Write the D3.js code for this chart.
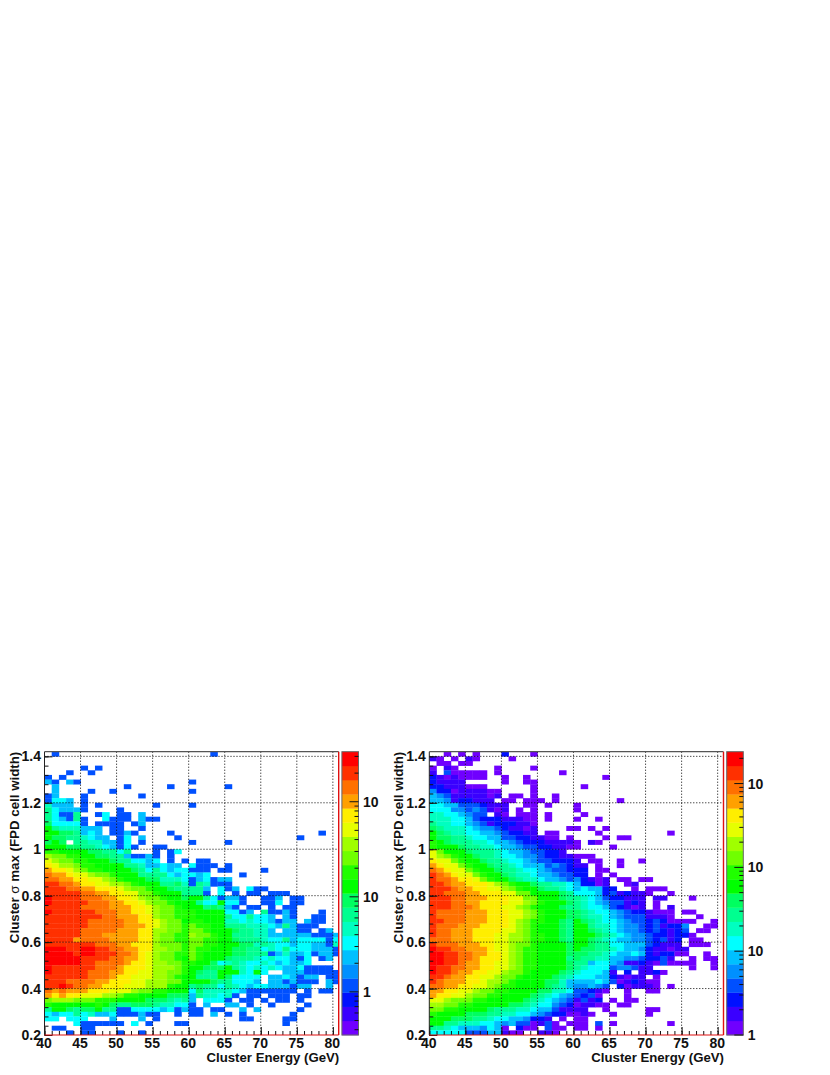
<!DOCTYPE html>
<html>
<head>
<meta charset="utf-8">
<script src="https://cdn.jsdelivr.net/npm/d3@7"></script>
<style>
body { margin: 0; background: #fff; }
text { font-family: "Liberation Sans", Arial, sans-serif; font-weight: bold; fill: #111; }
</style>
</head>
<body>
<script>
// bin edges of the histograms
const xStart = 40, xBinWidth = 1
const yStart = 0.2, yBinHeight = 0.02

const xTicks = [40, 45, 50, 55, 60, 65, 70, 75, 80]
const yTicks = [0.2, 0.4, 0.6, 0.8, 1, 1.2, 1.4]

// 20 colour bands of the palette, lowest first
const bandCodes = "0123456789abcdefghij".split("")
const palette = ["#7000ff", "#3a00ff", "#0010ff", "#0050ff", "#0090ff", "#00c0ff", "#00ffff", "#00ffc0", "#00ff90", "#00ff60",
                 "#00ff00", "#20ff00", "#70ff00", "#a0ff00", "#e6ff00", "#ffee00", "#ffa000", "#ff7000", "#ff3000", "#ff0000"]

// colour band of each bin. top row first, one group = 5 GeV, "." = empty bin
const leftRows = [
".3... ..... ..... ..... ...3.",
"", "",
"..... 3.3..",
"...3. .3...",
"3.3..",
"53.53 ..... ..... ..... 3....",
".5... ..... .3... ..3.. ..... 3....",
".5... .3..3 ..... ..... 3....",
"35... 3.... ...3.",
"3665. 3....",
"7555. 3.3.. ..... 3.... 3....",
"86555 3.... 3....",
"86338 ..36. 33.5.",
"86538 3..63 33.53 3....",
"96666 3.333 3.35.",
"a8777 555.3 3..3.",
"aa998 565.3 353.. ..3.. ..... ..... ..... ...3.",
"a9988 7655. 36.5. ...3. ..... ..... ..... 3....",
"9a9.8 87755 36.3. ..... 3.... 3....",
"aaa99 88765 363.. 33...",
"bbaaa a9988 68... 3.36.",
"dccbb aa998 85335 3.3..",
"edccb baaa9 88665 6.3.3 .33..",
"feddc bbaaa a8875 5655. 6333. 3....",
"gffed cbbaa aa986 86566 333.3 3.... 3....",
"hggfe edccb aaa88 88656 656.. ..3..",
"hhggf feedc baaa9 97776 35635 5....",
"iihhg ffeed dcbaa a8897 38733 3....",
"iiihh ggfff edccb aa988 885.6 35.63 3....",
"iiiii hhggf feecc baaa8 883.6 .3.33 .333.",
"jiiii hhhgg ffedc cbaa9 aa863 553.. 335.3 3....",
"jiiii ihhhg gffed ccbaa a866a 663.. 336.3 3....",
"iiiii hhhhg ggffe dccba aa898 53.33 .3.33",
"jiiii iihhh ggffe dccbb baaaa 6635. 83353 ...3.",
"iiiii iiihh gggff dccbb baaaa 86686 65.53 ..33.",
"iiiii ihhhh hggff edcca bbaaa 77676 65355 .533.",
"iiiii ihhhh hgggf edccb cbbaa 88877 76585 333..",
"iiiii hhhhh gggff ddccb ccbaa a9887 75.55 33.35",
"iiiii hhhgg gggff dccbb dccba a8887 75555 55333 5",
"iiiig hhhhg gggff dccbb ccbba a9888 76685 66663 6",
"iiiii iihhh ggfff dcccb ccbba aa997 87665 66553 7",
"jjjii jjiih hggff ddccb cbbaa a9988 67686 66555 3",
"jjjji jjiii hhgfe dccbb cbaaa a9988 83575 56355 3",
"jjjjj iiiih hggfe dccba cbaaa 98887 67665 36.35",
"jjjjj iihhh hgffe ddccb baa96 78766 76565 56...",
"jiiii iihhh gfffe dddcb aa999 a8767 67655 63333",
"jiiii ihhhg gffee ddccb a988a aa76a 6..55 53333 3",
"iiiii ihhhg ffeee ddcba a888a 96666 .5565 355.3 3",
"iiihh hhggf ffeed ddcca aaa98 86665 .5535 333.5 3",
"iijih hggff feeed ddbaa 89886 87656 65553 55..5",
"hghgg gfffe eedcc bbaaa 69777 76533 33333 .3.33",
"gfgff eeedd cbbaa aa999 58776 73.33 .333. 33...",
"cdddc ccbbb aaaa9 99878 5.666 3.33. 3.33. 3....",
"baaaa aaba9 88999 87766 3.5.. 55.3. .3... .3...",
"8aa98 99a88 33666 65635 33.33 ..5.5 ..... 3....",
"65668 67556 33353 3..3. 33.5. 3.3.. ....3",
"66.66 6...5 ...5. 3.... ..... ..33. ...33",
"....6 33333 3.6.3 ...33 ..... ..... ...3.",
".33.. 33...",
"...3. 33... 3..3."
]

const rightRows = [
"..0.0 .0... 2...0",
"10.0. 10... .0...",
".00.0 0....",
"0.10. ....0 ....0",
"1.300 000.0 ..... ...0.",
"21010 000.. 0..0. ..... ....0",
"21111 ..... 0..00",
"22111 000.. ....0 ..... .0...",
"42201 11100 ....0",
"54311 11101 .00.0 ..0..",
"55412 2111. 00.00 0.0.. ..... .0...",
"66553 33211 1..00 .0... 0....",
"66644 34310 1.0.0 ..... 0....",
"77665 433.1 0.000 .0... .0...",
"77766 53222 11100 .0... 0..0.",
"87766 54312 22110",
"98777 65443 21101 ....0 0.0.0",
"a9877 66554 32211 .00.. ...0. ..... ...0.",
"a9988 76655 33221 100.0 ....0 .00..",
"ba988 87765 54322 21111 0.10.",
"baaa9 88776 55433 22110 0.... 0....",
"ecaaa 98887 65543 3221.",
"edcba a9887 66544 32211 000..",
"feecb aa988 76654 33222 1.00. .0..0",
"gfeec baa98 87655 53432 11.0. .0...",
"hgfee cbaa9 88766 54332 22.00",
"ihgfe ecbaa 98776 55433 22.0. 0....",
"ihhgf fecba a9877 65543 42101 .00.0 0....",
"iihgg fffed cbaa9 88776 52201 ..01.",
"iiihg gffee dcbaa 98876 56552 2..0. 000..",
"iihhh ggfff eecca aaa98 66652 31211 0..0.",
"iiihh gggff feecc aaa98 87653 22111 .11.. .0...",
"iiihh ggfff feedc baaa9 87654 33121 .0...",
"iiihh hgfff eedcb aaa98 87665 32101 .0.1.",
"ihhhh gggff feedc baaa9 98766 54322 1000. 00...",
"ihhhh gggff feedc baaa9 98776 54333 1110. ..0..",
"iihhh gggff fedcb baa98 a9876 65433 23200 00..0",
"ihhhg ggfff fedcb aaa98 aa877 65443 23122 4..00",
"ihhgg gffff eedcb aaa98 aa987 65443 23212 3.00.",
"ihhgg gfffe eddcb baa98 aaa98 76544 32212 20...",
"hhhgg gfffe eddcb baa98 aa987 65544 32312 .00..",
"ihhhg ggffe edccb aaaa9 aa988 66555 32111 .000.",
"jiihh gggfe edcbb aaaa9 a9988 76554 21101 1....",
"jjiih hggff edcbb aaaa9 99887 65565 21220 0..0.",
"jjiih hgfff edcbb aaaa8 98877 55443 2231. .0.00",
"jjiih ggffe edcbb aaaa9 88566 54112 10300 00..0",
"jiihh ggffe edcbb aaaa9 87666 34431 1.... .0..0",
"jiihg gffee dccba aaa98 76665 1.2.1 120..",
"iihgg ffeed ccbaa aa987 66655 21011 .0...",
"ihggg ffedd cbaaa a9975 55565 30121 00...",
"hhggf feedc bbaaa a9875 44543 .2011 10.0.",
"ggffe edccb baaaa 99776 33210 ..0.. 00...",
"gffee dccbb aaaa9 87654 3230. ..0..",
"eedcc cbbaa aaa98 76543 1312. 0.00.",
"ddccb baaaa a9987 66432 01100 .00..",
"ccbba aaa98 88776 55311 11..0 ..... 00...",
"baaaa 99988 77665 43220 010.. 0.... 0....",
"aaa99 98876 65542 21.0. 00...",
"aa887 77665 45330 130.0 00.3. 0.... ...0.",
"88765 55465 0.200 .300. 00.0.",
"66666 33355 100.. 110.."
]

// colour bar scales: min, max of the log axis and the values that carry a label
const leftBar = [0.352, 336]
const rightBar = [1, 2400]
const leftBarLabels = [[1, "1"], [10, "10"], [100, "10"]]
const rightBarLabels = [[1, "1"], [10, "10"], [100, "10"], [1000, "10"]]

const width = 830, height = 1075
const plotTop = 751.7, plotBottom = 1035, plotWidth = 294.2

const svg = d3.select("body").append("svg")
    .attr("width", width)
    .attr("height", height)
    .style("display", "block")

const color = d3.scaleOrdinal().domain(bandCodes).range(palette)

function panel(id, left, rows, barDomain, barLabels) {
    const g = svg.append("g").attr("transform", "translate(" + left + ",0)")

    const x = d3.scaleLinear().domain([40, 80.81]).range([0, plotWidth])
    const y = d3.scaleLinear().domain([0.2, 1.42]).range([plotBottom, plotTop])

    g.append("clipPath").attr("id", id)
        .append("rect").attr("x", 0).attr("y", plotTop).attr("width", plotWidth).attr("height", plotBottom - plotTop)

    // flatten rows into bins
    const bins = []
    rows.forEach((row, r) => {
        row.replace(/ /g, "").split("").forEach((c, i) => {
            if (c != ".") bins.push({i: i, j: 60 - r, band: c})
        })
    })

    g.append("g").attr("clip-path", "url(#" + id + ")")
        .selectAll("rect")
        .data(bins)
        .enter()
        .append("rect")
        .attr("x", d => x(xStart + d.i * xBinWidth))
        .attr("y", d => y(yStart + (d.j + 1) * yBinHeight))
        .attr("width", x(41) - x(40) + 0.3)
        .attr("height", y(0.2) - y(0.22) + 0.3)
        .attr("fill", d => color(d.band))

    // grid
    g.append("g").selectAll("line")
        .data(xTicks.slice(1))
        .enter().append("line")
        .attr("x1", d => x(d)).attr("x2", d => x(d))
        .attr("y1", plotTop).attr("y2", plotBottom)
    g.append("g").selectAll("line")
        .data(yTicks.slice(1))
        .enter().append("line")
        .attr("x1", 0).attr("x2", plotWidth)
        .attr("y1", d => y(d)).attr("y2", d => y(d))
    g.selectAll("g line")
        .attr("stroke", "#000")
        .attr("stroke-width", 1)
        .attr("stroke-dasharray", "1 2")

    // minor then major ticks
    const xAxisMinor = d3.axisBottom(x).tickValues(d3.range(40, 81, 1)).tickSize(-4).tickFormat("")
    const xAxis = d3.axisBottom(x).tickValues(xTicks).tickSize(-8).tickPadding(3.5).tickFormat(d3.format("d"))
    const yAxisMinor = d3.axisLeft(y).tickValues(d3.range(0.2, 1.42, 0.04)).tickSize(-4).tickFormat("")
    const yAxis = d3.axisLeft(y).tickValues(yTicks).tickSize(-8).tickPadding(3.5).tickFormat(d => d)

    g.append("g").attr("transform", "translate(0," + plotBottom + ")").call(xAxisMinor)
    g.append("g").attr("transform", "translate(0," + plotBottom + ")").attr("class", "xlabels").call(xAxis)
    g.append("g").call(yAxisMinor)
    g.append("g").call(yAxis)
    g.selectAll(".domain").remove()
    g.selectAll(".tick line").attr("stroke", "#111").attr("stroke-dasharray", null)
    g.selectAll(".tick text").attr("font-size", 14).attr("font-family", null)
    g.selectAll(".xlabels .tick text").attr("dx", -1)

    // frame
    g.append("line").attr("x1", 0).attr("x2", 0).attr("y1", plotTop).attr("y2", plotBottom).attr("stroke", "#222")
    g.append("line").attr("x1", 0).attr("x2", plotWidth).attr("y1", plotTop).attr("y2", plotTop).attr("stroke", "#555").attr("stroke-width", 1.2)
    g.append("line").attr("x1", plotWidth).attr("x2", plotWidth).attr("y1", plotTop).attr("y2", plotBottom).attr("stroke", "#e01010").attr("stroke-width", 1.4)
    g.append("line").attr("x1", 0).attr("x2", plotWidth).attr("y1", plotBottom).attr("y2", plotBottom).attr("stroke", "#e01010").attr("stroke-width", 1.2)

    // axis titles
    g.append("text")
        .attr("x", plotWidth + 0.5).attr("y", 1062)
        .attr("text-anchor", "end").attr("font-size", 13.2)
        .text("Cluster Energy (GeV)")
    const yTitle = g.append("text")
        .attr("transform", "translate(-26," + plotTop + ") rotate(-90)")
        .attr("text-anchor", "end").attr("font-size", 13.3)
    yTitle.append("tspan").text("Cluster ")
    yTitle.append("tspan").text("σ").style("font-weight", "normal")
    yTitle.append("tspan").text(" max (FPD cell width)")

    // colour bar
    const barX = plotWidth + 3.2, barW = 16.6
    const bandY = d3.scaleBand().domain(d3.range(palette.length)).range([plotBottom, plotTop])
    const bar = g.append("g").attr("transform", "translate(" + barX + ",0)")
    bar.selectAll("rect")
        .data(palette)
        .enter().append("rect")
        .attr("x", 0).attr("width", barW)
        .attr("y", (d, i) => bandY(i)).attr("height", bandY.bandwidth() + 0.3)
        .attr("fill", d => d)
    bar.append("rect").attr("x", 0).attr("y", plotTop).attr("width", barW).attr("height", plotBottom - plotTop)
        .attr("fill", "none").attr("stroke", "#666")

    const z = d3.scaleLog().domain(barDomain).range([plotBottom, plotTop])
    const minor = []
    for (let p = -1; p < 4; p++) d3.range(1, 10).forEach(m => {
        const v = m * Math.pow(10, p)
        if (v >= barDomain[0] && v <= barDomain[1]) minor.push(v)
    })
    const barAxis = g.append("g").attr("transform", "translate(" + (barX + barW) + ",0)")
    barAxis.selectAll("line")
        .data(minor)
        .enter().append("line")
        .attr("x1", d => barLabels.some(l => l[0] == d) ? -9 : -4)
        .attr("x2", 0)
        .attr("y1", d => z(d)).attr("y2", d => z(d))
        .attr("stroke", "#111")
    barAxis.selectAll("text")
        .data(barLabels)
        .enter().append("text")
        .attr("x", 4.5)
        .attr("y", d => z(d[0]))
        .attr("dy", ".36em")
        .attr("font-size", 14)
        .text(d => d[1])
}

panel("clipLeft", 44.5, leftRows, leftBar, leftBarLabels)
panel("clipRight", 429.3, rightRows, rightBar, rightBarLabels)
</script>
</body>
</html>
